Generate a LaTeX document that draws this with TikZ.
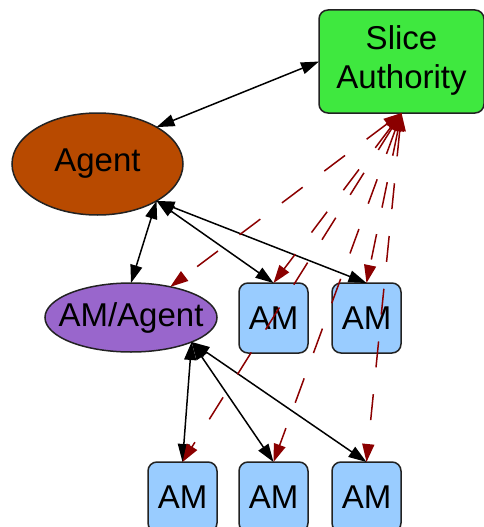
\documentclass[tikz,border=0pt]{standalone}
\usepackage{fontspec}
\setmainfont{Liberation Sans}
\usetikzlibrary{arrows.meta,shapes.geometric}
\definecolor{sagreen}{RGB}{63,232,63}
\definecolor{agbrown}{RGB}{184,74,0}
\definecolor{ampurple}{RGB}{153,102,204}
\definecolor{amblue}{RGB}{153,204,255}
\definecolor{edgered}{RGB}{139,0,0}
\definecolor{border}{RGB}{34,34,34}
\tikzset{
  lbl/.style={font=\fontsize{33}{39}\selectfont, text=black},
  amnode/.style={lbl, draw=border, line width=1.5pt, fill=amblue, rectangle, rounded corners=9pt,
    minimum width=69pt, minimum height=70pt, inner sep=0pt, outer sep=0pt},
  bi/.style={draw=black, line width=1.5pt, >={Triangle[length=18pt,width=12pt]}, <->},
  redbi/.style={draw=edgered, color=edgered, line width=1.5pt, dash pattern=on 26pt off 27pt,
    >={Triangle[length=18pt,width=12pt]}, <->}
}
\begin{document}
\begin{tikzpicture}[x=1pt,y=-1pt]
\useasboundingbox (0,0) rectangle (484,527);
\node[lbl, draw=border, line width=1.5pt, fill=sagreen, rectangle, rounded corners=9pt,
  minimum width=165pt, minimum height=103pt, inner sep=0pt, outer sep=0pt]
  (SA) at (401.5,61.5) {\raisebox{-2.5pt}{\begin{tabular}{@{}c@{}}Slice\\Authority\end{tabular}}};
\node[lbl, draw=border, line width=1.5pt, fill=agbrown, ellipse,
  minimum width=171pt, minimum height=102pt, inner sep=0pt, outer sep=0pt]
  (AG) at (97.5,164) {\makebox[0pt]{Agent}};
\node[lbl, draw=border, line width=1.5pt, fill=ampurple, ellipse,
  minimum width=172pt, minimum height=69pt, inner sep=0pt, outer sep=0pt]
  (AMA) at (131,317.5) {\makebox[0pt]{AM/Agent}};
\node[amnode] (AM1) at (273.5,318) {AM};
\node[amnode] (AM2) at (366.5,318) {AM};
\node[amnode] (B1) at (182.5,497) {AM};
\node[amnode] (B2) at (273.5,497) {AM};
\node[amnode] (B3) at (366.5,497) {AM};
% black edges
\draw[bi] (AG.32) -- (SA.west);
\draw[bi] (AG.-32) -- (AMA.north);
\draw[bi] (AG.-32) -- (AM1.north);
\draw[bi] (AG.-32) -- (AM2.north);
\draw[bi] (AMA.-22) -- (B1.north);
\draw[bi] (AMA.-22) -- (B2.north);
\draw[bi] (AMA.-22) -- (B3.north);
% red dashed edges
\draw[redbi] (SA.south) -- (AMA.38);
\draw[redbi] (SA.south) -- (AM1.north);
\draw[redbi] (SA.south) -- (AM2.north);
\draw[redbi] (SA.south) -- (B1.north);
\draw[redbi] (SA.south) -- (B2.north);
\draw[redbi] (SA.south) -- (B3.north);
\end{tikzpicture}
\end{document}
